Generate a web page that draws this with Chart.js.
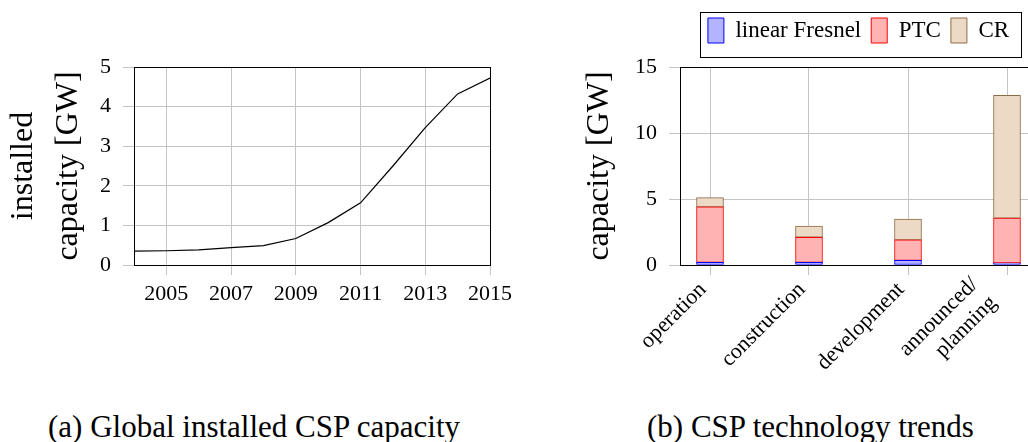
<!DOCTYPE html>
<html>
<head>
<meta charset="utf-8">
<script src="https://cdn.jsdelivr.net/npm/chart.js@4.4.1/dist/chart.umd.min.js"></script>
<style>
    html, body { margin: 0; padding: 0; background: #fff; width: 1028px; height: 442px; overflow: hidden; }
    .box { position: absolute; top: 0; }
    .caption { position: absolute; top: 411px; font-family: 'Liberation Serif', serif; font-size: 31px; line-height: 31px; color: #000; white-space: nowrap; }
</style>
</head>
<body>
<div class="box" style="left:0; width:520px; height:330px"><canvas id="capacityChart"></canvas></div>
<div class="box" style="left:560px; width:520px; height:380px"><canvas id="techChart"></canvas></div>
<div class="caption" style="left:48px">(a) Global installed CSP capacity</div>
<div class="caption" style="left:647px">(b) CSP technology trends</div>
<script>
// Data
const years = [2004, 2005, 2006, 2007, 2008, 2009, 2010, 2011, 2012, 2013, 2014, 2015];
const installedGW = [0.35, 0.36, 0.38, 0.44, 0.49, 0.67, 1.07, 1.57, 2.5, 3.47, 4.32, 4.72];
const yearTicks = [2005, 2007, 2009, 2011, 2013, 2015];

const stages = ['operation', 'construction', 'development', ['announced/', 'planning']];
const fresnelGW = [0.2, 0.2, 0.35, 0.15];
const ptcGW = [4.2, 1.9, 1.55, 3.4];
const crGW = [0.7, 0.85, 1.57, 9.3];

const GRID = '#c4c4c4';
Chart.defaults.font.family = "'Liberation Serif', serif";
Chart.defaults.color = '#000';

// black box round the plot area
const frame = {
    id: 'frame',
    afterDraw(chart) {
        const a = chart.chartArea;
        const ctx = chart.ctx;
        ctx.save();
        ctx.strokeStyle = '#000';
        ctx.lineWidth = 1;
        ctx.strokeRect(Math.round(a.left) + 0.5, Math.round(a.top) + 0.5,
            Math.round(a.right - a.left), Math.round(a.bottom - a.top));
        ctx.restore();
    }
};

// legend with a border and some room below it
const legendBox = {
    id: 'legendBox',
    beforeLayout(chart) {
        const lg = chart.legend;
        if (lg && !lg._roomy) {
            const fit = lg.fit;
            lg.fit = function() { fit.call(this); this.height += 14; };
            lg._roomy = true;
        }
    },
    afterDraw(chart) {
        const hb = chart.legend.legendHitBoxes;
        if (!hb || !hb.length) return;
        const left = Math.min(...hb.map(h => h.left)) - 8;
        const right = Math.max(...hb.map(h => h.left + h.width)) + 12;
        const top = Math.min(...hb.map(h => h.top)) - 6;
        const bottom = Math.max(...hb.map(h => h.top + h.height)) + 14;
        const ctx = chart.ctx;
        ctx.save();
        ctx.strokeStyle = '#000';
        ctx.lineWidth = 1;
        ctx.strokeRect(Math.round(left) + 0.5, Math.round(top) + 0.5, Math.round(right - left), Math.round(bottom - top));
        ctx.restore();
    }
};

// rotated multi-line tick labels: centre the block on the tick like pgfplots does
const centreLabels = {
    id: 'centreLabels',
    beforeDraw(chart) {
        const items = chart.scales.x.getLabelItems();
        items.forEach(item => {
            if (Array.isArray(item.label) && !item._centred) {
                item.textOffset -= (item.label.length - 1) * item.font.lineHeight / 2;
                item.options.translation[0] -= 16;
                item.options.translation[1] += 4;
                item._centred = true;
            }
        });
    }
};

function createCapacityChart() {
    const ctx = document.getElementById('capacityChart');
    return new Chart(ctx, {
        type: 'line',
        data: {
            datasets: [{
                data: years.map((y, i) => ({ x: y, y: installedGW[i] })),
                borderColor: '#000',
                borderWidth: 1.2,
                pointRadius: 0,
                tension: 0
            }]
        },
        options: {
            responsive: true,
            maintainAspectRatio: false,
            animation: false,
            layout: { padding: { top: 67, right: 30, left: 0, bottom: 0 } },
            plugins: { legend: { display: false }, tooltip: { enabled: false } },
            scales: {
                x: {
                    type: 'linear',
                    min: 2004,
                    max: 2015,
                    afterBuildTicks: axis => { axis.ticks = yearTicks.map(v => ({ value: v })); },
                    afterFit: axis => { axis.height = 65; },
                    grid: { color: GRID, tickLength: 10 },
                    border: { color: '#000' },
                    ticks: {
                        font: { size: 22 },
                        padding: 6,
                        maxRotation: 0,
                        callback: v => String(v)
                    }
                },
                y: {
                    min: 0,
                    max: 5,
                    afterFit: axis => { axis.width = 134; },
                    grid: { color: GRID, tickLength: 11 },
                    border: { color: '#000' },
                    ticks: { stepSize: 1, font: { size: 22 }, padding: 12 },
                    title: {
                        display: true,
                        text: ['installed', 'capacity [GW]'],
                        font: { size: 32, lineHeight: 1.4 },
                        padding: { top: 1 }
                    }
                }
            }
        },
        plugins: [frame]
    });
}

function createTechChart() {
    const ctx = document.getElementById('techChart');
    const bar = (label, values, fill, line) => ({
        label: label,
        data: values.map((v, i) => ({ x: i, y: v })),
        backgroundColor: fill,
        borderColor: line,
        borderWidth: 1,
        borderSkipped: false,
        barThickness: 27
    });
    return new Chart(ctx, {
        type: 'bar',
        data: {
            datasets: [
                bar('linear Fresnel', fresnelGW, '#b3b3ff', '#0000ff'),
                bar('PTC', ptcGW, '#ffb3b3', '#ff0000'),
                bar('CR', crGW, '#ecd9c6', '#8f6c45')
            ]
        },
        options: {
            responsive: true,
            maintainAspectRatio: false,
            animation: false,
            layout: { padding: { top: 8, right: 43, left: 0, bottom: 0 } },
            plugins: {
                tooltip: { enabled: false },
                legend: {
                    position: 'top',
                    fullSize: false,
                    labels: {
                        boxWidth: 16,
                        boxHeight: 25,
                        padding: 10,
                        font: { size: 23 }
                    }
                }
            },
            scales: {
                x: {
                    type: 'linear',
                    stacked: true,
                    offset: false,
                    min: -30 / 99,
                    max: 3 + 30 / 99,
                    afterBuildTicks: axis => { axis.ticks = stages.map((s, i) => ({ value: i })); },
                    afterFit: axis => { axis.height = 115; },
                    grid: { color: GRID, tickLength: 10, offset: false },
                    border: { color: '#000' },
                    ticks: {
                        font: { size: 22 },
                        padding: 2,
                        labelOffset: -7,
                        minRotation: 45,
                        maxRotation: 45,
                        autoSkip: false,
                        callback: v => stages[v]
                    }
                },
                y: {
                    stacked: true,
                    min: 0,
                    max: 15,
                    afterFit: axis => { axis.width = 120; },
                    grid: { color: GRID, tickLength: 11 },
                    border: { color: '#000' },
                    ticks: { stepSize: 5, font: { size: 22 }, padding: 12 },
                    title: {
                        display: true,
                        text: 'capacity [GW]',
                        font: { size: 32, lineHeight: 1.4 },
                        padding: { top: 17 }
                    }
                }
            }
        },
        plugins: [frame, legendBox, centreLabels]
    });
}

createCapacityChart();
createTechChart();
</script>
</body>
</html>
